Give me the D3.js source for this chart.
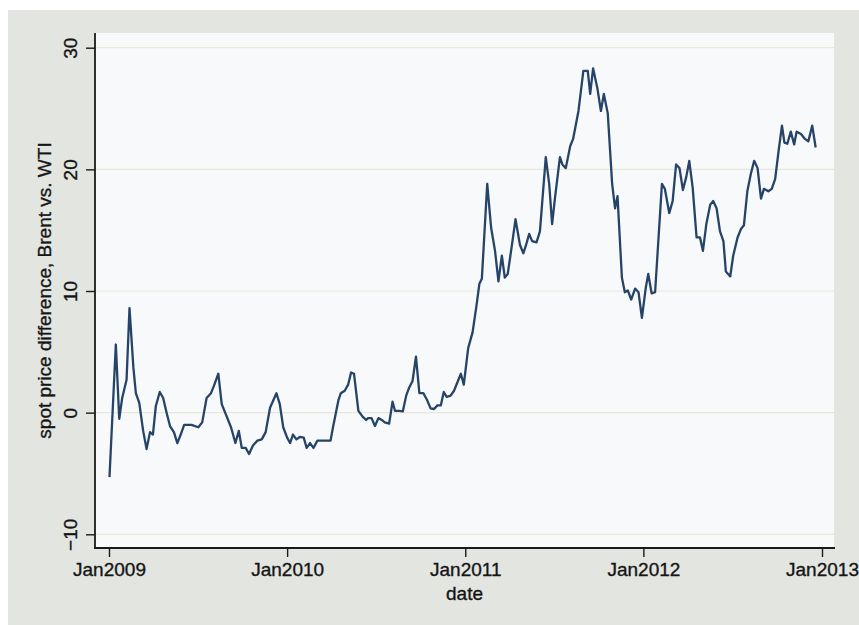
<!DOCTYPE html>
<html>
<head>
<meta charset="utf-8">
<script src="https://d3js.org/d3.v7.min.js"></script>
<style>
  body { margin: 0; background: #ffffff; }
  svg { display: block; }
  text { font-family: "Liberation Sans", Arial, Helvetica, sans-serif; fill: #151515;
         stroke: #151515; stroke-width: 0.35px; }
</style>
</head>
<body>
<div id="chart"></div>
<script>
// weekly Brent minus WTI spot spread
const dates = [
  "2009-01-02","2009-01-15","2009-01-22","2009-01-28","2009-02-06","2009-02-12","2009-02-20","2009-02-25",
  "2009-03-04","2009-03-12","2009-03-19","2009-03-26","2009-04-01","2009-04-07","2009-04-15","2009-04-22",
  "2009-04-29","2009-05-06","2009-05-14","2009-05-21","2009-05-28","2009-06-04","2009-06-19","2009-07-03",
  "2009-07-11","2009-07-20","2009-07-29","2009-08-04","2009-08-13","2009-08-20","2009-08-30","2009-09-08",
  "2009-09-17","2009-09-24","2009-09-30","2009-10-08","2009-10-15","2009-10-23","2009-11-01","2009-11-10",
  "2009-11-18","2009-11-27","2009-12-10","2009-12-17","2009-12-24","2010-01-01","2010-01-07","2010-01-13",
  "2010-01-20","2010-01-27","2010-02-04","2010-02-10","2010-02-17","2010-02-24","2010-03-04","2010-03-13",
  "2010-03-23","2010-03-31","2010-04-05","2010-04-16","2010-04-21","2010-04-29","2010-05-06","2010-05-12",
  "2010-05-18","2010-05-27","2010-06-05","2010-06-12","2010-06-16","2010-06-23","2010-06-30","2010-07-07",
  "2010-07-14","2010-07-20","2010-07-29","2010-08-05","2010-08-10","2010-08-19","2010-08-26","2010-09-02",
  "2010-09-08","2010-09-15","2010-09-22","2010-09-29","2010-10-07","2010-10-14","2010-10-22","2010-10-29",
  "2010-11-05","2010-11-12","2010-11-18","2010-11-24","2010-12-02","2010-12-09","2010-12-16","2010-12-23",
  "2010-12-29","2011-01-07","2011-01-16","2011-01-24","2011-01-30","2011-02-04","2011-02-15","2011-02-23",
  "2011-03-03","2011-03-10","2011-03-17","2011-03-23","2011-03-29","2011-04-06","2011-04-14","2011-04-23",
  "2011-04-30","2011-05-05","2011-05-12","2011-05-18","2011-05-27","2011-06-03","2011-06-15","2011-06-22",
  "2011-06-28","2011-07-04","2011-07-14","2011-07-19","2011-07-26","2011-08-04","2011-08-10","2011-08-21",
  "2011-08-31","2011-09-09","2011-09-14","2011-09-20","2011-09-29","2011-10-06","2011-10-12","2011-10-20",
  "2011-10-29","2011-11-04","2011-11-09","2011-11-18","2011-11-24","2011-11-30","2011-12-07","2011-12-15",
  "2011-12-22","2011-12-29","2012-01-06","2012-01-11","2012-01-18","2012-01-25","2012-02-08","2012-02-14",
  "2012-02-23","2012-03-01","2012-03-08","2012-03-15","2012-03-22","2012-03-29","2012-04-04","2012-04-11",
  "2012-04-19","2012-04-26","2012-05-02","2012-05-09","2012-05-17","2012-05-23","2012-05-30","2012-06-06",
  "2012-06-13","2012-06-18","2012-06-27","2012-07-03","2012-07-12","2012-07-19","2012-07-25","2012-08-01",
  "2012-08-08","2012-08-15","2012-08-22","2012-08-29","2012-09-04","2012-09-13","2012-09-20","2012-09-27",
  "2012-10-04","2012-10-11","2012-10-16","2012-10-22","2012-10-29","2012-11-05","2012-11-10","2012-11-19",
  "2012-11-27","2012-12-04","2012-12-12","2012-12-19"
];
const spread = [
  -5.3, 5.6, -0.5, 1.2, 2.7, 8.6, 3.7, 1.6,
  0.8, -1.5, -3.0, -1.6, -1.8, 0.55, 1.7, 1.2,
  0.0, -1.1, -1.6, -2.5, -1.8, -1.0, -1.0, -1.2,
  -0.8, 1.2, 1.6, 2.2, 3.2, 0.7, -0.3, -1.2,
  -2.5, -1.5, -2.9, -2.9, -3.4, -2.7, -2.3, -2.2,
  -1.6, 0.4, 1.6, 0.7, -1.2, -2.05, -2.5, -1.8,
  -2.2, -2.0, -2.05, -2.9, -2.5, -2.9, -2.3, -2.3,
  -2.3, -2.3, -1.2, 1.0, 1.6, 1.8, 2.3, 3.3,
  3.2, 0.15, -0.35, -0.6, -0.45, -0.45, -1.1, -0.45,
  -0.6, -0.8, -0.9, 0.9, 0.15, 0.15, 0.1, 1.4,
  2.05, 2.6, 4.6, 1.6, 1.6, 1.1, 0.35, 0.3,
  0.6, 0.6, 1.7, 1.3, 1.4, 1.8, 2.5, 3.2,
  2.3, 5.3, 6.6, 8.8, 10.6, 11.0, 18.8, 15.2,
  13.3, 10.8, 12.9, 11.1, 11.4, 13.6, 15.9, 13.8,
  13.1, 13.7, 14.7, 14.1, 14.0, 14.9, 21.0, 18.8,
  15.5, 17.7, 21.0, 20.4, 20.1, 21.9, 22.5, 24.8,
  28.1, 28.1, 26.2, 28.3, 26.6, 24.8, 26.2, 24.6,
  18.8, 16.8, 17.8, 11.1, 9.9, 10.05, 9.3, 10.2,
  9.9, 7.8, 10.3, 11.4, 9.8, 9.9, 18.8, 18.4,
  16.4, 17.4, 20.4, 20.1, 18.3, 19.4, 20.7, 18.5,
  14.4, 14.4, 13.3, 15.5, 17.1, 17.4, 16.8, 14.9,
  14.1, 11.6, 11.2, 12.9, 14.4, 15.1, 15.4, 18.2,
  19.6, 20.7, 20.1, 17.6, 18.4, 18.2, 18.4, 19.2,
  21.5, 23.6, 22.2, 22.1, 23.1, 22.05, 23.1, 22.9,
  22.5, 22.3, 23.6, 21.8
];
const yTicks = [-10, 0, 10, 20, 30];
const xTicks = ["2009-01-01", "2010-01-01", "2011-01-01", "2012-01-01", "2013-01-01"];

const W = 859, H = 625;
const parse = d3.timeParse("%Y-%m-%d");
const data = dates.map((d, i) => ({ date: parse(d), v: spread[i] }));

const svg = d3.select("#chart").append("svg").attr("width", W).attr("height", H);

// scanned page: gray graph region, white plot region
svg.append("rect").attr("x", 8).attr("y", 10).attr("width", W - 8).attr("height", H - 10)
   .attr("fill", "#e3e6e0");
const plot = { left: 95, top: 33, right: 834, bottom: 548 };
svg.append("rect").attr("x", plot.left).attr("y", plot.top)
   .attr("width", plot.right - plot.left).attr("height", plot.bottom - plot.top)
   .attr("fill", "#f8f9fa");

const x = d3.scaleTime().domain([parse("2009-01-01"), parse("2013-01-01")]).range([109, 822]);
const y = d3.scaleLinear().domain([-10, 30]).range([534.3, 47.7]);

// grid lines
svg.append("g").selectAll("line").data(yTicks).enter().append("line")
   .attr("x1", plot.left + 1).attr("x2", plot.right)
   .attr("y1", d => y(d)).attr("y2", d => y(d))
   .attr("stroke", "#e9e7da").attr("stroke-width", 1.2);

// y axis
const yAxis = d3.axisLeft(y).tickValues(yTicks).tickSize(9).tickPadding(8);
const gy = svg.append("g").attr("transform", "translate(" + plot.left + ",0)").call(yAxis);
gy.select(".domain").attr("d", "M0," + plot.top + "V" + plot.bottom)
  .attr("stroke", "#1a1a1a").attr("stroke-width", 1.8);
gy.selectAll(".tick line").attr("stroke", "#1a1a1a").attr("stroke-width", 1.4);
gy.selectAll(".tick text")
  .attr("font-size", 19).attr("font-family", null).attr("fill", "#151515")
  .attr("transform", "rotate(-90)").attr("x", 0).attr("y", -18)
  .attr("dy", 0).attr("text-anchor", "middle");

// x axis
const xAxis = d3.axisBottom(x).tickValues(xTicks.map(parse)).tickFormat(d3.timeFormat("%b%Y"))
  .tickSize(9).tickPadding(6);
const gx = svg.append("g").attr("transform", "translate(0," + plot.bottom + ")").call(xAxis);
gx.select(".domain").attr("d", "M" + (plot.left - 1) + ",0H" + (plot.right + 1))
  .attr("stroke", "#1a1a1a").attr("stroke-width", 1.8);
gx.selectAll(".tick line").attr("stroke", "#1a1a1a").attr("stroke-width", 1.4);
gx.selectAll(".tick text").attr("font-size", 19).attr("font-family", null).attr("fill", "#151515");

// axis titles
svg.append("text")
   .attr("transform", "translate(51," + ((plot.top + plot.bottom) / 2) + ") rotate(-90)")
   .attr("text-anchor", "middle").attr("font-size", 19)
   .text("spot price difference, Brent vs. WTI");
svg.append("text")
   .attr("x", (plot.left + plot.right) / 2).attr("y", 600)
   .attr("text-anchor", "middle").attr("font-size", 19)
   .text("date");

// the series
const line = d3.line().x(d => x(d.date)).y(d => y(d.v));
svg.append("path").datum(data)
   .attr("d", line)
   .attr("fill", "none")
   .attr("stroke", "#264468")
   .attr("stroke-width", 2.3)
   .attr("stroke-linejoin", "round");
</script>
</body>
</html>
